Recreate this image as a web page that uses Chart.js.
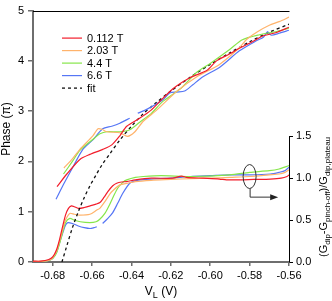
<!DOCTYPE html>
<html lang="en">
<head>
  <meta charset="UTF-8" />
  <title>Phase vs V_L</title>
  <script src="https://cdn.jsdelivr.net/npm/chart.js@4"></script>
  <style>
    html, body { margin: 0; padding: 0; background: #fff; }
  </style>
</head>
<body>
  <canvas id="phaseChart" width="332" height="301"></canvas>

  <script>
    // ---- data ----
    const fieldLabels = ['0.112 T', '2.03 T', '4.4 T', '6.6 T'];

    // phase (units of pi), left axis
    const phaseV_0112 = [-0.6778, -0.6728, -0.6662, -0.6611, -0.6546, -0.650, -0.6459, -0.6424, -0.6358, -0.630, -0.6242, -0.6191, -0.6156, -0.6105, -0.6014, -0.5968, -0.590, -0.5852, -0.5786, -0.5736, -0.566, -0.560];
    const phase_0112  = [1.50, 1.75, 2.04, 2.14, 2.24, 2.33, 2.51, 2.70, 2.86, 3.02, 3.25, 3.44, 3.54, 3.66, 3.82, 4.00, 4.14, 4.25, 4.38, 4.49, 4.57, 4.67];

    const phaseV_203 = [-0.6743, -0.670, -0.6662, -0.6596, -0.657, -0.655, -0.6525, -0.6459, -0.642, -0.6385, -0.634, -0.6272, -0.6171, -0.607, -0.5953, -0.5852, -0.5817, -0.576, -0.570, -0.565, -0.560];
    const phase_203  = [1.87, 2.05, 2.24, 2.51, 2.65, 2.64, 2.59, 2.57, 2.50, 2.58, 2.80, 3.02, 3.39, 3.68, 3.93, 4.26, 4.42, 4.58, 4.71, 4.78, 4.87];

    const phaseV_44 = [-0.6745, -0.670, -0.6662, -0.6586, -0.656, -0.6525, -0.6459, -0.6409, -0.6358, -0.630, -0.6242, -0.615, -0.607, -0.600, -0.5903, -0.5837, -0.575, -0.567, -0.560];
    const phase_44  = [1.75, 2.00, 2.22, 2.47, 2.55, 2.59, 2.59, 2.63, 2.78, 2.95, 3.19, 3.45, 3.77, 3.95, 4.22, 4.42, 4.52, 4.58, 4.65];

    const phaseV_66 = [-0.6783, -0.674, -0.6697, -0.6647, -0.6596, -0.6546, -0.650, -0.6459, -0.6409, -0.639, -0.6368, -0.632, -0.6242, -0.6206, -0.617, -0.613, -0.609, -0.6039, -0.595, -0.5852, -0.5766, -0.573, -0.571, -0.569, -0.565, -0.560];
    const phase_66  = [1.25, 1.58, 1.89, 2.24, 2.43, 2.65, 2.70, 2.76, 2.86, null, 2.96, 3.04, 3.22, 3.36, 3.38, 3.40, 3.52, 3.68, 3.88, 4.20, 4.40, 4.47, 4.58, 4.51, 4.55, 4.61];

    const fitV     = [-0.6753, -0.673, -0.670, -0.667, -0.664, -0.661, -0.658, -0.655, -0.651, -0.646, -0.640, -0.634, -0.628, -0.620, -0.610, -0.600, -0.590, -0.580, -0.570, -0.560];
    const fitPhase = [0, 0.30, 0.68, 1.00, 1.28, 1.52, 1.73, 1.93, 2.15, 2.42, 2.70, 2.95, 3.15, 3.40, 3.68, 3.93, 4.16, 4.38, 4.57, 4.73];

    // normalised dip conductance, right axis
    const dipV_0112 = [-0.690, -0.686, -0.682, -0.680, -0.678, -0.6765, -0.675, -0.6735, -0.672, -0.6705, -0.669, -0.667, -0.664, -0.661, -0.658, -0.656, -0.654, -0.652, -0.6495, -0.6475, -0.645, -0.6424, -0.638, -0.630, -0.6191, -0.6146, -0.612, -0.6035, -0.5953, -0.5918, -0.585, -0.578, -0.5695, -0.564, -0.561, -0.560];
    const dip_0112  = [0.01, 0.01, 0.03, 0.06, 0.15, 0.27, 0.42, 0.56, 0.64, 0.67, 0.66, 0.64, 0.65, 0.67, 0.69, 0.71, 0.77, 0.84, 0.91, 0.94, 0.955, 0.96, 0.98, 1.00, 1.00, 1.025, 1.01, 1.00, 0.99, 0.98, 0.98, 0.985, 0.99, 1.00, 1.02, 1.04];

    const dipV_203 = [-0.690, -0.686, -0.682, -0.680, -0.678, -0.6765, -0.675, -0.6735, -0.6713, -0.669, -0.6662, -0.6611, -0.6576, -0.6561, -0.6535, -0.651, -0.6495, -0.6459, -0.642, -0.638, -0.630, -0.620, -0.610, -0.600, -0.590, -0.580, -0.570, -0.565, -0.562, -0.560];
    const dip_203  = [0.005, 0.01, 0.02, 0.05, 0.13, 0.25, 0.38, 0.50, 0.58, 0.57, 0.56, 0.57, 0.62, 0.64, 0.72, 0.81, 0.85, 0.92, 0.94, 0.96, 0.975, 0.985, 0.995, 1.00, 1.01, 1.02, 1.04, 1.05, 1.07, 1.10];

    const dipV_44 = [-0.690, -0.686, -0.682, -0.680, -0.678, -0.6765, -0.675, -0.6735, -0.6713, -0.669, -0.666, -0.6611, -0.658, -0.6561, -0.6535, -0.651, -0.649, -0.647, -0.6444, -0.6424, -0.638, -0.634, -0.625, -0.610, -0.590, -0.580, -0.570, -0.565, -0.560];
    const dip_44  = [0.0, 0.005, 0.02, 0.04, 0.11, 0.22, 0.35, 0.47, 0.52, 0.50, 0.48, 0.47, 0.48, 0.51, 0.58, 0.69, 0.79, 0.88, 0.95, 0.98, 1.01, 1.02, 1.03, 1.02, 1.04, 1.07, 1.09, 1.11, 1.15];

    const dipV_66 = [-0.690, -0.686, -0.682, -0.680, -0.678, -0.6765, -0.675, -0.6735, -0.6723, -0.670, -0.667, -0.664, -0.661, -0.659, -0.6576, -0.656, -0.6546, -0.652, -0.6495, -0.647, -0.6444, -0.6409, -0.638, -0.635, -0.630, -0.620, -0.610, -0.600, -0.590, -0.580, -0.5695, -0.565, -0.562, -0.560];
    const dip_66  = [0.0, 0.005, 0.02, 0.045, 0.12, 0.23, 0.34, 0.44, 0.47, 0.46, 0.43, 0.41, 0.40, 0.41, 0.42, null, 0.46, 0.52, 0.59, 0.70, 0.82, 0.94, 0.97, 0.98, 0.99, 1.00, 1.02, 1.03, 1.04, 1.04, 1.05, 1.07, 1.09, 1.13];

    const xTicks = [-0.68, -0.66, -0.64, -0.62, -0.60, -0.58, -0.56];
    const phaseTicks = [0, 1, 2, 3, 4, 5];
    const dipTicks = [0, 0.5, 1.0, 1.5];

    // ---- styling ----
    const colors = ['#f21d2b', '#ffb36b', '#86e64a', '#5676f5'];
    const axisGray = '#6e6e6e';
    const FONT = '"Liberation Sans", Arial, sans-serif';

    const pts = (xs, ys) => xs.map((v, i) => ({ x: v, y: ys[i] }));

    const phaseSets = [[phaseV_0112, phase_0112], [phaseV_203, phase_203], [phaseV_44, phase_44], [phaseV_66, phase_66]];
    const dipSets = [[dipV_0112, dip_0112], [dipV_203, dip_203], [dipV_44, dip_44], [dipV_66, dip_66]];

    const datasets = [];
    phaseSets.forEach(([xs, ys], i) => datasets.push({
      label: fieldLabels[i], data: pts(xs, ys), yAxisID: 'y',
      borderColor: colors[i], borderWidth: 1.2, pointRadius: 0, tension: 0.25, spanGaps: false, inLegend: true
    }));
    datasets.push({
      label: 'fit', data: pts(fitV, fitPhase), yAxisID: 'y',
      borderColor: '#111', borderWidth: 1.3, borderDash: [3, 3], pointRadius: 0, tension: 0.3, inLegend: true
    });
    dipSets.forEach(([xs, ys], i) => datasets.push({
      label: fieldLabels[i] + ' dip', data: pts(xs, ys), yAxisID: 'y2',
      borderColor: colors[i], borderWidth: 1.2, pointRadius: 0, tension: 0.25, spanGaps: false
    }));

    // draws text with subscript pieces, optionally rotated
    function richText(ctx, parts, x, y, size, rotate) {
      ctx.save();
      ctx.translate(x, y);
      if (rotate) ctx.rotate(-Math.PI / 2);
      const big = size + 'px ' + FONT;
      const small = Math.round(size * 0.72) + 'px ' + FONT;
      let w = 0;
      parts.forEach(([t, sub]) => { ctx.font = sub ? small : big; w += ctx.measureText(t).width; });
      let cx = -w / 2;
      ctx.textBaseline = 'middle';
      ctx.fillStyle = '#000';
      parts.forEach(([t, sub]) => {
        ctx.font = sub ? small : big;
        ctx.fillText(t, cx, sub ? size * 0.32 : 0);
        cx += ctx.measureText(t).width;
      });
      ctx.restore();
    }

    const overlay = {
      id: 'overlay',
      afterDraw(chart) {
        const { ctx, chartArea: a, scales } = chart;
        const xs = scales.x, y2 = scales.y2;
        ctx.save();
        ctx.strokeStyle = '#000';
        ctx.lineWidth = 1;
        ctx.setLineDash([]);

        // top frame line
        ctx.beginPath();
        ctx.moveTo(a.left, Math.round(a.top) + 0.5);
        ctx.lineTo(a.right + 0.5, Math.round(a.top) + 0.5);
        ctx.stroke();

        // right axis line, only over its tick range
        const rx = Math.round(a.right) + 0.5;
        ctx.beginPath();
        ctx.moveTo(rx, y2.getPixelForValue(0));
        ctx.lineTo(rx, y2.getPixelForValue(1.5));
        ctx.stroke();

        // legend
        let ly = a.top + 27;
        chart.data.datasets.filter(d => d.inLegend).forEach(d => {
          ctx.strokeStyle = d.borderColor;
          ctx.lineWidth = d.borderWidth;
          ctx.setLineDash(d.borderDash || []);
          ctx.beginPath();
          ctx.moveTo(62, ly + 0.5);
          ctx.lineTo(82, ly + 0.5);
          ctx.stroke();
          ctx.setLineDash([]);
          ctx.fillStyle = '#000';
          ctx.font = '11px ' + FONT;
          ctx.textBaseline = 'middle';
          ctx.fillText(d.label, 87, ly + 1);
          ly += 12.5;
        });

        // ellipse marking the dip curves, arrow to the right axis
        const ex = xs.getPixelForValue(-0.58), ey = y2.getPixelForValue(1.02);
        ctx.strokeStyle = '#333';
        ctx.lineWidth = 1;
        ctx.beginPath();
        ctx.ellipse(ex, ey, 6.5, 12, 0, 0, Math.PI * 2);
        ctx.stroke();
        const ay = y2.getPixelForValue(0.78);
        const ax = xs.getPixelForValue(-0.5655);
        ctx.beginPath();
        ctx.moveTo(ex + 0.5, ey + 12);
        ctx.lineTo(ex + 0.5, ay + 0.5);
        ctx.lineTo(ax - 6, ay + 0.5);
        ctx.stroke();
        ctx.fillStyle = '#222';
        ctx.beginPath();
        ctx.moveTo(ax, ay + 0.5);
        ctx.lineTo(ax - 8, ay - 2.5);
        ctx.lineTo(ax - 8, ay + 3.5);
        ctx.closePath();
        ctx.fill();

        // axis titles
        richText(ctx, [['Phase (\u03c0)', false]], 7, 129, 12, true);
        richText(ctx, [['V', false], ['L', true], [' (V)', false]], 161, 292, 12, false);
        richText(ctx, [['(G', false], ['dip', true], ['-G', false], ['pinch-off', true], [')/G', false], ['dip,plateau', true]], 324, 197, 11, true);
        ctx.restore();
      }
    };

    const tickFont = { family: FONT, size: 11 };

    new Chart(document.getElementById('phaseChart').getContext('2d'), {
      type: 'line',
      data: { datasets },
      options: {
        responsive: false,
        animation: false,
        devicePixelRatio: 1,
        layout: { padding: { top: 5, left: 0, right: 0, bottom: 0 } },
        plugins: { legend: { display: false }, tooltip: { enabled: false } },
        scales: {
          x: {
            type: 'linear', min: -0.69, max: -0.56,
            afterBuildTicks: s => { s.ticks = xTicks.map(v => ({ value: v })); },
            afterFit: s => { s.height = 39; },
            ticks: { font: tickFont, color: '#000', padding: 3, maxRotation: 0, callback: v => v.toFixed(2) },
            grid: { display: true, drawOnChartArea: false, drawTicks: true, tickLength: 4, color: axisGray, lineWidth: 1.5 },
            border: { display: true, color: axisGray, width: 2 }
          },
          y: {
            type: 'linear', position: 'left', min: 0, max: 5,
            afterBuildTicks: s => { s.ticks = phaseTicks.map(v => ({ value: v })); },
            afterFit: s => { s.width = 33; },
            ticks: { font: tickFont, color: '#000', padding: 4 },
            grid: { display: true, drawOnChartArea: false, drawTicks: true, tickLength: 5, color: axisGray, lineWidth: 1.5 },
            border: { display: true, color: axisGray, width: 2 }
          },
          y2: {
            type: 'linear', position: 'right', min: 0, max: 3,
            afterBuildTicks: s => { s.ticks = dipTicks.map(v => ({ value: v })); },
            afterFit: s => { s.width = 43; },
            ticks: { font: tickFont, color: '#000', padding: 3, callback: v => v.toFixed(1) },
            grid: { display: true, drawOnChartArea: false, drawTicks: true, tickLength: 4, color: '#000', lineWidth: 1 },
            border: { display: false }
          }
        }
      },
      plugins: [overlay]
    });
  </script>
</body>
</html>
